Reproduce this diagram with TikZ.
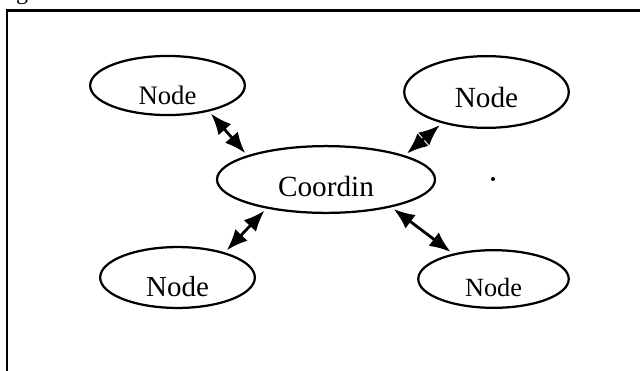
\documentclass[tikz,border=0pt]{standalone}
\usepackage{fontspec}
\setmainfont{Liberation Serif}
\usetikzlibrary{shapes.geometric,arrows.meta}
\tikzset{
  link/.style={line width=2pt,
    {Latex[length=15pt,width=12pt]}-{Latex[length=15pt,width=12pt]},
    shorten <=2pt,shorten >=2pt},
}
\tikzstyle{frame}=[line width=1.6pt]
\tikzstyle{bubble}=[draw,ellipse,line width=1.6pt,inner sep=0pt,text depth=0pt]

\begin{document}
\begin{tikzpicture}[x=0.025cm,y=-0.025cm]
    \useasboundingbox (0,0) rectangle (640,370);
    \clip (0,0) rectangle (640,370);
    \node[anchor=base west,font=\fontsize{17}{20}\selectfont,inner sep=0pt] (cap) at (-4,-1) {Figure 1.};
    \draw[frame] (7,10.5) rectangle (660,390);
    % nodes
    \node[bubble,minimum width=110pt,minimum height=42pt,text height=27.6pt,
      font=\fontsize{19}{22}\selectfont] (nw) at (167.5,85.5) {Node};
    \node[bubble,minimum width=155pt,minimum height=47.5pt,text height=24.8pt,
      font=\fontsize{20.8}{24}\selectfont] (co) at (326,179.5) {Coordin};
    \node[bubble,minimum width=117pt,minimum height=51pt,text height=22.7pt,
      font=\fontsize{20.8}{24}\selectfont] (ne) at (486.5,92) {Node};
    \node[bubble,minimum width=110pt,minimum height=43.3pt,text height=27.6pt,
      font=\fontsize{20.6}{24}\selectfont] (sw) at (177.5,277.5) {Node};
    \node[bubble,minimum width=107pt,minimum height=41pt,text height=25.5pt,
      font=\fontsize{18.7}{22}\selectfont] (se) at (493.5,279) {Node};
    % links
    \draw[link] (nw.-32) -- (co.163);
    \draw[link] (co.17) -- (ne.215);
    \draw[link] (co.206) -- (sw.28);
    \draw[link] (co.-23) -- (se.148);
    \fill (493,179) circle (2);
\end{tikzpicture}
\end{document}
